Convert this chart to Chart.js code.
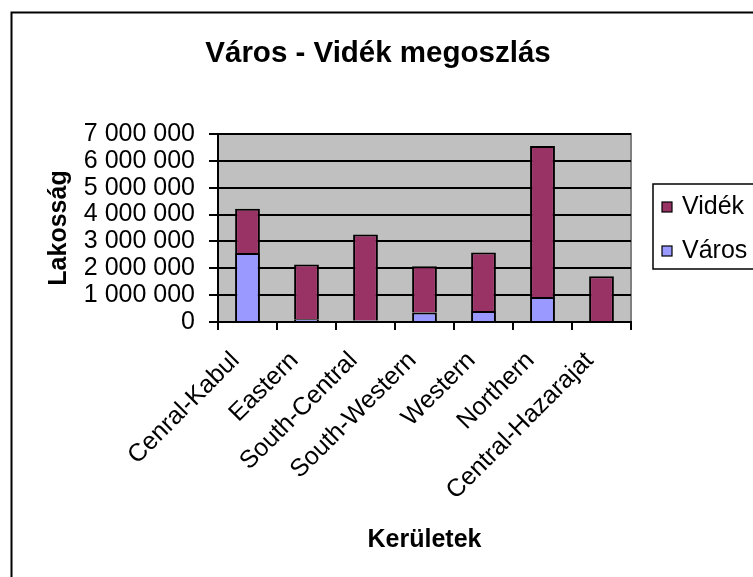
<!DOCTYPE html>
<html lang="hu">
<head>
  <meta charset="UTF-8">
  <title>Város - Vidék megoszlás</title>
  <script src="https://cdn.jsdelivr.net/npm/chart.js"></script>
  <style>
    html, body { margin: 0; padding: 0; background: #fff; }
    #wrap { width: 753px; height: 577px; }
  </style>
</head>
<body>
  <div id="wrap"><canvas id="chart" width="753" height="577"></canvas></div>

  <script>
    // data
    const chartTitle = 'Város - Vidék megoszlás';
    const xTitle = 'Kerületek';
    const yTitle = 'Lakosság';
    const districts = ['Cenral-Kabul', 'Eastern', 'South-Central', 'South-Western', 'Western', 'Northern', 'Central-Hazarajat'];
    const varos = [2570000, 100000, 60000, 350000, 410000, 930000, 0];
    const videk = [1650000, 2040000, 3200000, 1730000, 2180000, 5620000, 1700000];
    const yMax = 7000000;
    const yStep = 1000000;

    const FONT = "'Liberation Sans', Arial, sans-serif";

    // thousands separated by a space: 7 000 000
    function fmt(v) {
      return String(v).replace(/\B(?=(\d{3})+(?!\d))/g, ' ');
    }

    const decor = {
      id: 'decor',
      beforeDraw(chart) {
        const { ctx, chartArea: a } = chart;
        ctx.save();
        ctx.fillStyle = '#fff';
        ctx.fillRect(0, 0, chart.width, chart.height);
        ctx.fillStyle = '#c0c0c0';
        ctx.fillRect(a.left, a.top, a.right - a.left, a.bottom - a.top);
        ctx.strokeStyle = '#808080';
        ctx.lineWidth = 2;
        ctx.strokeRect(a.left, a.top, a.right - a.left, a.bottom - a.top);
        ctx.restore();
      },
      afterDraw(chart) {
        const ctx = chart.ctx;
        ctx.save();
        // outer frame (runs off the right and bottom edges)
        ctx.strokeStyle = '#000';
        ctx.lineWidth = 2;
        ctx.strokeRect(11.5, 12.5, 800, 600);

        // title
        ctx.fillStyle = '#000';
        ctx.font = 'bold 29.5px ' + FONT;
        ctx.textAlign = 'center';
        ctx.textBaseline = 'middle';
        ctx.fillText(chartTitle, 378, 54);

        // legend (reverse order, like the stack)
        ctx.lineWidth = 1.5;
        ctx.strokeRect(653, 184, 120, 85);
        ctx.font = '25px ' + FONT;
        ctx.textAlign = 'left';
        const items = chart.data.datasets.slice().reverse();
        items.forEach((ds, i) => {
          const cy = 207 + i * 44;
          ctx.fillStyle = ds.backgroundColor;
          ctx.fillRect(662, cy - 5, 10, 10);
          ctx.lineWidth = 1.2;
          ctx.strokeStyle = '#000';
          ctx.strokeRect(662, cy - 5, 10, 10);
          ctx.fillStyle = '#000';
          ctx.fillText(ds.label, 682, cy);
        });
        ctx.restore();
      }
    };

    new Chart(document.getElementById('chart'), {
      type: 'bar',
      data: {
        labels: districts,
        datasets: [
          { label: 'Város', data: varos, backgroundColor: '#9999ff', borderColor: '#000', borderWidth: 2 },
          { label: 'Vidék', data: videk, backgroundColor: '#993366', borderColor: '#000', borderWidth: 2 }
        ]
      },
      options: {
        responsive: false,
        animation: false,
        events: [],
        layout: { padding: { left: 0, top: 134, right: 122, bottom: 0 } },
        datasets: { bar: { barPercentage: 0.42, categoryPercentage: 1 } },
        plugins: {
          legend: { display: false },
          title: { display: false },
          tooltip: { enabled: false }
        },
        scales: {
          x: {
            stacked: true,
            offset: true,
            afterFit: s => { s.height = 255; },
            grid: { drawOnChartArea: false, offset: true, tickLength: 8, color: '#000', lineWidth: 2 },
            border: { color: '#000', width: 2 },
            ticks: {
              color: '#000', font: { family: FONT, size: 25 },
              maxRotation: 45, minRotation: 45, autoSkip: false,
              padding: 16, labelOffset: -12
            },
            title: {
              display: true, text: xTitle, color: '#000',
              font: { family: FONT, size: 25, weight: 'bold' },
              padding: { top: 0, bottom: 22 }
            }
          },
          y: {
            stacked: true,
            min: 0,
            max: yMax,
            afterFit: s => { s.width = 218; },
            grid: { color: '#000', lineWidth: 2, tickLength: 9 },
            border: { color: '#000', width: 2 },
            ticks: {
              stepSize: yStep, autoSkip: false, color: '#000', padding: 14,
              font: { family: FONT, size: 25 },
              callback: v => fmt(v)
            },
            title: {
              display: true, text: yTitle, color: '#000',
              font: { family: FONT, size: 25, weight: 'bold' },
              padding: { top: 44, bottom: 0 }
            }
          }
        }
      },
      plugins: [decor]
    });
  </script>
</body>
</html>
